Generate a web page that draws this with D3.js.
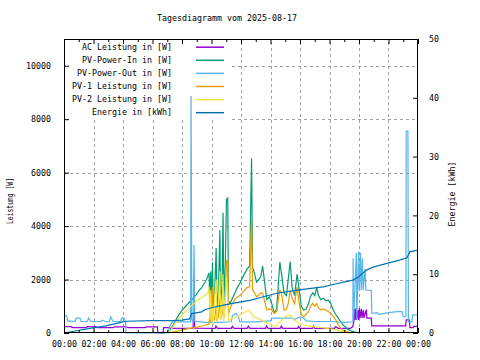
<!DOCTYPE html>
<html>
<head>
<meta charset="utf-8">
<script src="https://cdn.jsdelivr.net/npm/d3@7"></script>
<style>
    body { margin: 0; background: #fff; }
    text { font-family: "DejaVu Sans Mono", monospace; font-size: 8.3px; fill: #000; }
</style>
</head>
<body>
<svg id="chart" width="480" height="360"></svg>
<script>
// values
const chartTitle = "Tagesdiagramm vom 2025-08-17";
const leftTicks = [0, 2000, 4000, 6000, 8000, 10000];
const rightTicks = [0, 10, 20, 30, 40, 50];
const hourTicks = [0, 2, 4, 6, 8, 10, 12, 14, 16, 18, 20, 22, 24];
const hourLabels = ["00:00", "02:00", "04:00", "06:00", "08:00", "10:00", "12:00",
                    "14:00", "16:00", "18:00", "20:00", "22:00", "00:00"];

const seriesNames = ["AC Leistung in [W]", "PV-Power-In in [W]", "PV-Power-Out in [W]",
                     "PV-1 Leistung in [W]", "PV-2 Leistung in [W]", "Energie in [kWh]"];
const seriesColors = ["#9400d3", "#009e73", "#56b4e9", "#e69f00", "#f0e442", "#0072b2"];

const acPower = [["00:00",235],["00:30",235],["00:35",200],["01:30",200],["01:35",235],["02:10",235],
    ["02:15",200],["03:20",200],["03:25",230],["04:15",230],["04:20",200],["05:30",200],["05:35",230],
    ["06:20",230],["06:22",0],["06:43",0],["06:45",200],["07:10",200],["07:12",175],["08:45",180],
    ["08:48",1000],["08:52",180],["10:15",175],["10:18",260],["10:25",175],["11:20",175],["11:25",250],
    ["11:32",175],["12:25",175],["12:30",260],["12:36",175],["13:40",175],["13:44",270],["13:50",175],
    ["14:40",175],["14:44",260],["14:50",175],["15:50",175],["15:54",250],["16:00",175],["16:50",175],
    ["16:55",260],["17:00",175],["18:20",175],["18:25",240],["18:35",175],["19:25",175],["19:35",240],
    ["19:40",490],["19:42",900],["19:44",490],["19:48",930],["19:50",490],["19:56",860],["19:58",490],
    ["20:02",930],["20:04",560],["20:10",900],["20:12",560],["20:18",860],["20:20",560],["20:30",880],
    ["20:32",560],["20:50",560],["20:52",270],["23:10",270],["23:12",490],["23:25",490],["23:27",200],
    ["23:40",200],["23:42",250],["24:00",250]];

const pvIn = [["07:05",0],["07:15",150],["07:30",400],["07:45",650],["08:00",850],["08:15",1000],
    ["08:30",1150],["08:45",1300],["09:00",1450],["09:10",1600],["09:20",1700],["09:30",1850],
    ["09:40",2000],["09:50",2250],["09:53",1100],["09:57",2300],["10:00",900],["10:04",2650],
    ["10:07",1000],["10:12",1300],["10:19",3180],["10:22",900],["10:28",1500],["10:34",3850],
    ["10:37",1100],["10:43",1800],["10:47",4500],["10:50",1200],["10:56",2600],["11:01",5000],
    ["11:06",5050],["11:09",1200],["11:15",1100],["11:25",1300],["11:35",1500],["11:45",1700],
    ["11:55",1850],["12:05",2050],["12:15",2230],["12:25",2400],["12:35",2500],["12:43",6540],
    ["12:47",2450],["12:55",2230],["13:03",1900],["13:10",1980],["13:20",2100],["13:28",2500],
    ["13:35",1980],["13:45",1250],["13:55",1360],["14:05",1100],["14:15",750],["14:25",900],
    ["14:38",2650],["14:45",2200],["14:55",1500],["15:05",1400],["15:12",2000],["15:20",2670],
    ["15:28",1700],["15:38",1400],["15:48",2200],["15:55",1730],["16:05",1000],["16:15",860],
    ["16:25",900],["16:35",1100],["16:42",1360],["16:52",1500],["17:00",1400],["17:08",1700],
    ["17:15",1400],["17:25",1250],["17:35",1300],["17:45",1200],["17:55",1230],["18:05",1100],
    ["18:15",860],["18:25",700],["18:40",500],["18:55",300],["19:10",180],["19:25",90],
    ["19:40",40],["19:55",10],["20:05",0]];

const pvOut = [["00:00",640],["00:10",660],["00:15",450],["00:45",430],["00:50",560],["01:05",560],
    ["01:10",430],["01:35",430],["01:40",560],["01:50",430],["02:30",430],["02:35",480],["02:50",430],
    ["03:05",430],["03:10",600],["03:20",430],["03:50",430],["03:55",560],["04:05",560],["04:10",430],
    ["04:12",0],["07:00",0],["07:10",250],["07:20",420],["08:35",420],["08:37",8870],["08:40",500],
    ["08:46",400],["08:49",3300],["08:52",450],["09:30",400],["10:30",400],["11:20",420],["11:25",650],
    ["11:40",740],["11:50",600],["11:55",420],["13:00",420],["14:00",450],["14:05",560],["15:30",560],
    ["15:35",500],["16:00",600],["16:15",560],["16:25",450],["17:00",430],["18:00",430],["19:00",400],
    ["19:35",420],["19:36",2800],["19:38",500],["19:49",3000],["19:51",500],["19:58",3050],
    ["20:01",1600],["20:06",3000],["20:09",1600],["20:14",2800],["20:17",1600],["20:25",2400],
    ["20:28",1600],["20:50",1600],["20:52",735],["21:15",760],["21:20",700],["22:00",760],
    ["22:35",800],["22:55",800],["23:00",610],["23:11",610],["23:12",7550],["23:19",7550],
    ["23:21",420],["23:35",420],["23:38",680],["24:00",680]];

const pv1 = [["07:05",0],["07:30",50],["08:00",110],["08:30",170],["09:00",220],["09:30",280],
    ["09:50",330],["09:53",700],["09:57",400],["10:04",1730],["10:07",450],["10:12",500],
    ["10:19",1000],["10:22",450],["10:28",600],["10:34",1300],["10:37",500],["10:43",700],
    ["10:47",1700],["10:50",550],["10:56",1100],["11:01",2700],["11:06",2750],["11:09",700],
    ["11:15",900],["11:25",1100],["11:35",1250],["11:45",1350],["11:55",1400],["12:05",1490],
    ["12:15",1600],["12:25",1700],["12:35",1730],["12:43",4300],["12:47",1610],["12:55",1500],
    ["13:03",1360],["13:10",1400],["13:20",1490],["13:28",1500],["13:35",1230],["13:45",860],
    ["13:55",900],["14:05",860],["14:15",740],["14:25",800],["14:38",1610],["14:45",1500],
    ["14:55",860],["15:05",900],["15:12",1100],["15:20",1600],["15:28",1300],["15:38",1100],
    ["15:48",1730],["15:55",1200],["16:05",700],["16:15",610],["16:25",700],["16:35",800],
    ["16:42",985],["16:52",1110],["17:00",1000],["17:08",1100],["17:15",950],["17:25",860],
    ["17:35",900],["17:45",860],["17:55",800],["18:05",740],["18:15",610],["18:25",500],
    ["18:40",235],["18:55",100],["19:10",50],["19:25",0]];

const pv2 = [["07:05",0],["07:15",120],["07:30",330],["07:45",520],["08:00",680],["08:15",820],
    ["08:30",950],["08:45",1080],["09:00",1200],["09:15",1300],["09:30",1400],["09:45",1500],
    ["09:50",1730],["09:53",500],["09:57",1600],["10:00",400],["10:04",1000],["10:07",300],
    ["10:12",1300],["10:19",2000],["10:22",400],["10:28",1100],["10:34",2300],["10:37",500],
    ["10:43",900],["10:47",2200],["10:50",450],["10:56",1200],["11:01",2100],["11:06",1500],
    ["11:09",450],["11:15",500],["11:30",560],["11:45",610],["12:00",700],["12:15",780],
    ["12:30",860],["12:43",740],["12:50",610],["13:05",560],["13:20",500],["13:35",420],
    ["13:50",360],["14:05",300],["14:20",235],["14:35",400],["14:50",520],["15:05",640],
    ["15:20",670],["15:35",500],["15:45",420],["16:00",330],["16:15",300],["16:30",280],
    ["16:45",250],["17:00",230],["17:15",220],["17:30",200],["17:45",180],["18:00",170],
    ["18:15",140],["18:30",110],["18:45",70],["19:00",40],["19:15",10],["19:30",0]];

const energy = [["00:00",0],["00:40",0.3],["01:45",0.8],["02:50",1.2],["04:00",1.9],["04:15",2.0],
    ["06:00",2.1],["07:20",2.1],["08:00",2.2],["08:30",2.4],["08:40",3.3],["09:20",3.6],
    ["09:35",4.0],["10:20",4.5],["11:20",5.0],["12:40",5.6],["13:35",6.2],["14:30",6.8],
    ["15:50",7.3],["16:45",7.6],["17:40",7.9],["18:10",8.2],["19:35",9.0],["20:00",9.6],
    ["20:30",10.7],["20:57",11.2],["21:50",11.8],["22:45",12.4],["23:15",12.8],["23:27",13.8],
    ["24:00",14.1]];

const powerSeries = [acPower, pvIn, pvOut, pv1, pv2];

// layout
let pLeft = 64, pRight = 418, pTop = 39, pBottom = 333;

let svg = d3.select("#chart");

let toHours = s => {
    let p = s.split(":");
    return +p[0] + (+p[1]) / 60;
};

let xScale = d3.scaleLinear()
                .domain([0, 24])
                .range([pLeft, pRight]);

let yScale = d3.scaleLinear()
                .domain([0, 11000])
                .range([pBottom, pTop]);

let y2Scale = d3.scaleLinear()
                .domain([0, 50])
                .range([pBottom, pTop]);

// title
svg.append("text")
    .attr("x", 227)
    .attr("y", 21)
    .style("text-anchor", "middle")
    .text(chartTitle);

// grid
let grid = svg.append("g")
            .attr("stroke", "#a0a0a0")
            .attr("stroke-width", 1)
            .attr("stroke-dasharray", "3,3");

grid.selectAll("line.v")
    .data(hourTicks.slice(1, -1))
    .enter()
    .append("line")
    .attr("class", "v")
    .attr("x1", d => Math.round(xScale(d)) + 0.5)
    .attr("x2", d => Math.round(xScale(d)) + 0.5)
    .attr("y1", pBottom)
    .attr("y2", pTop);

grid.selectAll("line.h")
    .data(leftTicks.slice(1))
    .enter()
    .append("line")
    .attr("class", "h")
    .attr("x1", pLeft)
    .attr("x2", pRight)
    .attr("y1", d => Math.round(yScale(d)) + 0.5)
    .attr("y2", d => Math.round(yScale(d)) + 0.5);

// opaque key box
svg.append("rect")
    .attr("x", pLeft + 1)
    .attr("y", pTop + 1)
    .attr("width", 166)
    .attr("height", 80)
    .attr("fill", "#fff");

// data lines
const dMaker = d3.line()
            .x(d => xScale(toHours(d[0])))
            .y(d => yScale(d[1]))
            .curve(d3.curveLinear);

const eMaker = d3.line()
            .x(d => xScale(toHours(d[0])))
            .y(d => y2Scale(d[1]))
            .curve(d3.curveLinear);

svg.append("g")
    .selectAll("path")
    .data(powerSeries)
    .enter()
    .append("path")
    .attr("fill", "none")
    .attr("stroke", (d, i) => seriesColors[i])
    .attr("stroke-width", 1.2)
    .attr("d", d => dMaker(d));

svg.append("path")
    .attr("fill", "none")
    .attr("stroke", seriesColors[5])
    .attr("stroke-width", 1.2)
    .attr("d", eMaker(energy));

// legend
let legend = svg.append("g")
                .selectAll("g")
                .data(seriesNames)
                .enter()
                .append("g")
                .attr("transform", (d, i) => `translate(0, ${46.7 + i * 13.1})`);

legend.append("text")
    .attr("x", 172)
    .attr("y", 3)
    .style("text-anchor", "end")
    .text(d => d);

legend.append("line")
    .attr("x1", 196)
    .attr("x2", 224)
    .attr("y1", 0.5)
    .attr("y2", 0.5)
    .attr("stroke", (d, i) => seriesColors[i])
    .attr("stroke-width", 1.5);

// axes
let xAxisFunction = d3.axisBottom(xScale)
                        .tickValues(hourTicks)
                        .tickFormat((d, i) => hourLabels[i])
                        .tickSize(-5)
                        .tickPadding(8);

svg.append("g")
    .attr("class", "axis")
    .call(xAxisFunction)
    .attr("transform", `translate(0, ${pBottom})`);

svg.append("g")
    .call(d3.axisBottom(xScale).tickValues(d3.range(1, 24, 2)).tickFormat("").tickSize(-3))
    .attr("transform", `translate(0, ${pBottom})`);

svg.append("g")
    .call(d3.axisTop(xScale).tickValues(hourTicks).tickFormat("").tickSize(-5))
    .attr("transform", `translate(0, ${pTop})`);

svg.append("g")
    .call(d3.axisTop(xScale).tickValues(d3.range(1, 24, 2)).tickFormat("").tickSize(-3))
    .attr("transform", `translate(0, ${pTop})`);

let yAxisFunction = d3.axisLeft(yScale)
                        .tickValues(leftTicks)
                        .tickFormat(d3.format("d"))
                        .tickSize(-5)
                        .tickPadding(13);

svg.append("g")
    .attr("class", "axis")
    .call(yAxisFunction)
    .attr("transform", `translate(${pLeft}, 0)`);

let y2AxisFunction = d3.axisRight(y2Scale)
                        .tickValues(rightTicks)
                        .tickFormat(d3.format("d"))
                        .tickSize(-5)
                        .tickPadding(11);

svg.append("g")
    .attr("class", "axis")
    .call(y2AxisFunction)
    .attr("transform", `translate(${pRight}, 0)`);

svg.selectAll(".domain").remove();
svg.selectAll(".tick line").attr("stroke", "#000");

// frame
svg.append("rect")
    .attr("x", pLeft + 0.5)
    .attr("y", pTop + 0.5)
    .attr("width", pRight - pLeft - 1)
    .attr("height", pBottom - pTop - 1)
    .attr("fill", "none")
    .attr("stroke", "#000")
    .attr("stroke-width", 1);

// axis titles
svg.append("text")
    .attr("transform", "translate(13, 201) rotate(-90)")
    .attr("textLength", 46)
    .attr("lengthAdjust", "spacingAndGlyphs")
    .style("text-anchor", "middle")
    .text("Leistung [W]");

svg.append("text")
    .attr("transform", "translate(455, 194) rotate(-90)")
    .style("text-anchor", "middle")
    .text("Energie [kWh]");
</script>
</body>
</html>
